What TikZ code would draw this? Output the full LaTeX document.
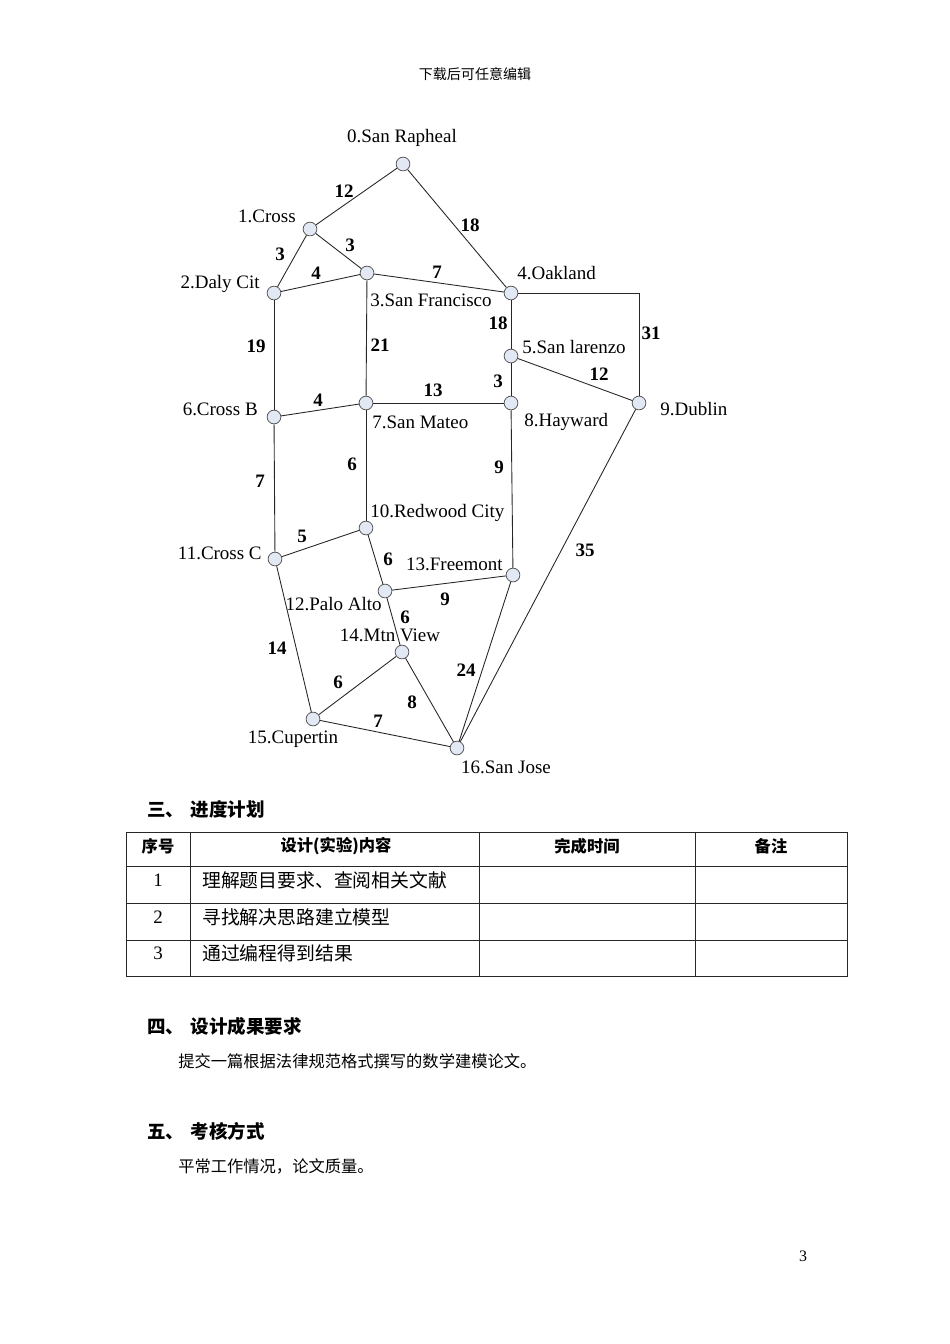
\documentclass[tikz,border=0pt]{standalone}
\usepackage{fontspec}
\setmainfont{Liberation Serif}
\newfontfamily\cjk{Noto Sans CJK SC}
\usetikzlibrary{positioning}

\definecolor{cityfill}{RGB}{226,232,244}
\definecolor{rule}{RGB}{40,40,40}

\tikzset{
  city/.style={circle, draw=black!65, fill=cityfill, minimum size=8.6pt, inner sep=0pt, line width=0.5pt},
  road/.style={draw=black!85, line width=0.55pt},
  lbl/.style={font=\fontsize{11.9}{13}\selectfont, inner sep=0pt},
  wt/.style={font=\fontsize{11.9}{13}\selectfont\bfseries, inner sep=0pt},
  head/.style={font=\cjk\bfseries\fontsize{11.6}{13}\selectfont, inner sep=0pt, anchor=west},
  body/.style={font=\cjk\fontsize{10.2}{12}\selectfont, inner sep=0pt, anchor=west},
  cell/.style={font=\cjk\fontsize{11.8}{13}\selectfont, inner sep=0pt},
  hcell/.style={font=\cjk\bfseries\fontsize{10.2}{12}\selectfont, inner sep=0pt},
}

\begin{document}
\begin{tikzpicture}[x=0.6266pt, y=-0.6266pt]
  \useasboundingbox (0,0) rectangle (950,1344);

  \node[font=\cjk\fontsize{8.8}{10}\selectfont, inner sep=0pt] (note) at (475,74) {下载后可任意编辑};

  % Define nodes
  \node[city] (n0)  at (403,164) {};
  \node[city] (n1)  at (310,229) {};
  \node[city] (n2)  at (274,293) {};
  \node[city] (n3)  at (367,273) {};
  \node[city] (n4)  at (511,293) {};
  \node[city] (n5)  at (511,356) {};
  \node[city] (n6)  at (274,417) {};
  \node[city] (n7)  at (366,403) {};
  \node[city] (n8)  at (511,403) {};
  \node[city] (n9)  at (639,403) {};
  \node[city] (n10) at (366,528) {};
  \node[city] (n11) at (275,559) {};
  \node[city] (n12) at (385,591) {};
  \node[city] (n13) at (513,575) {};
  \node[city] (n14) at (402,652) {};
  \node[city] (n15) at (313,719) {};
  \node[city] (n16) at (457,748) {};

  % City names
  \node[lbl] (l0)  at (402,138) {0.San Rapheal};
  \node[lbl, anchor=east] (l1)  at (296,216) {1.Cross};
  \node[lbl, anchor=east] (l2)  at (260,284) {2.Daly Cit};
  \node[lbl, anchor=west] (l3)  at (370,300) {3.San Francisco};
  \node[lbl, anchor=west] (l4)  at (517,273) {4.Oakland};
  \node[lbl, anchor=west] (l5)  at (522,347) {5.San larenzo};
  \node[lbl, anchor=east] (l6)  at (258,409) {6.Cross B};
  \node[lbl, anchor=west] (l7)  at (372,422) {7.San Mateo};
  \node[lbl, anchor=west] (l8)  at (524,422) {8.Hayward};
  \node[lbl, anchor=west] (l9)  at (660,409) {9.Dublin};
  \node[lbl, anchor=west] (l10) at (370,513) {10.Redwood City};
  \node[lbl, anchor=east] (l11) at (262,553) {11.Cross C};
  \node[lbl, anchor=east] (l12) at (382,604) {12.Palo Alto};
  \node[lbl, anchor=east] (l13) at (503,564) {13.Freemont};
  \node[lbl] (l14) at (390,635) {14.Mtn View};
  \node[lbl] (l15) at (293,739) {15.Cupertin};
  \node[lbl] (l16) at (506,767) {16.San Jose};

  % Roads
  \draw[road] (n0) -- (n1);
  \draw[road] (n0) -- (n4);
  \draw[road] (n1) -- (n2);
  \draw[road] (n1) -- (n3);
  \draw[road] (n2) -- (n3);
  \draw[road] (n3) -- (n4);
  \draw[road] (n2) -- (n6);
  \draw[road] (n3) -- (n7);
  \draw[road] (n4) -- (n5);
  \draw[road] (n4) -| (n9);
  \draw[road] (n5) -- (n8);
  \draw[road] (n5) -- (n9);
  \draw[road] (n6) -- (n7);
  \draw[road] (n7) -- (n8);
  \draw[road] (n6) -- (n11);
  \draw[road] (n7) -- (n10);
  \draw[road] (n8) -- (n13);
  \draw[road] (n10) -- (n11);
  \draw[road] (n10) -- (n12);
  \draw[road] (n12) -- (n13);
  \draw[road] (n12) -- (n14);
  \draw[road] (n11) -- (n15);
  \draw[road] (n14) -- (n15);
  \draw[road] (n14) -- (n16);
  \draw[road] (n13) -- (n16);
  \draw[road] (n15) -- (n16);
  \draw[road] (n9) -- (n16);

  % Weights
  \node[wt] (w01)   at (344,191) {12};
  \node[wt] (w04)   at (470,225) {18};
  \node[wt] (w12)   at (280,254) {3};
  \node[wt] (w13)   at (350,245) {3};
  \node[wt] (w23)   at (316,273) {4};
  \node[wt] (w34)   at (437,272) {7};
  \node[wt] (w26)   at (256,346) {19};
  \node[wt] (w37)   at (380,345) {21};
  \node[wt] (w45)   at (498,323) {18};
  \node[wt] (w49)   at (651,333) {31};
  \node[wt] (w58)   at (498,381) {3};
  \node[wt] (w59)   at (599,374) {12};
  \node[wt] (w67)   at (318,400) {4};
  \node[wt] (w78)   at (433,390) {13};
  \node[wt] (w611)  at (260,481) {7};
  \node[wt] (w710)  at (352,464) {6};
  \node[wt] (w813)  at (499,467) {9};
  \node[wt] (w1011) at (302,536) {5};
  \node[wt] (w1012) at (388,559) {6};
  \node[wt] (w1213) at (445,599) {9};
  \node[wt] (w1214) at (405,617) {6};
  \node[wt] (w1115) at (277,648) {14};
  \node[wt] (w1415) at (338,682) {6};
  \node[wt] (w1416) at (412,702) {8};
  \node[wt] (w1316) at (466,670) {24};
  \node[wt] (w1516) at (378,721) {7};
  \node[wt] (w916)  at (585,550) {35};

  % Schedule
  \node[head] (s3) at (147,809) {三、\hspace{4pt}进度计划};
  \draw[rule, line width=0.6pt] (126,832) rectangle (847,976);
  \foreach \y in {866,903,940} \draw[rule, line width=0.5pt] (126,\y) -- (847,\y);
  \foreach \x in {190,479,695} \draw[rule, line width=0.5pt] (\x,832) -- (\x,976);
  \node[hcell] (h1) at (158,846) {序号};
  \node[hcell] (h2) at (336,846) {设计(实验)内容};
  \node[hcell] (h3) at (587,846) {完成时间};
  \node[hcell] (h4) at (771,846) {备注};
  \node[lbl] (r1) at (158,880) {1};
  \node[lbl] (r2) at (158,917) {2};
  \node[lbl] (r3) at (158,953) {3};
  \node[cell, anchor=west] (c1) at (202,880) {理解题目要求、查阅相关文献};
  \node[cell, anchor=west] (c2) at (202,917) {寻找解决思路建立模型};
  \node[cell, anchor=west] (c3) at (202,953) {通过编程得到结果};

  \node[head] (s4) at (147,1026) {四、\hspace{4pt}设计成果要求};
  \node[body] (t4) at (178,1061) {提交一篇根据法律规范格式撰写的数学建模论文。};
  \node[head] (s5) at (147,1131) {五、\hspace{4pt}考核方式};
  \node[body] (t5) at (178,1166) {平常工作情况，论文质量。};

  \node[font=\fontsize{10}{12}\selectfont, inner sep=0pt] (pg) at (803,1256) {3};
\end{tikzpicture}
\end{document}
